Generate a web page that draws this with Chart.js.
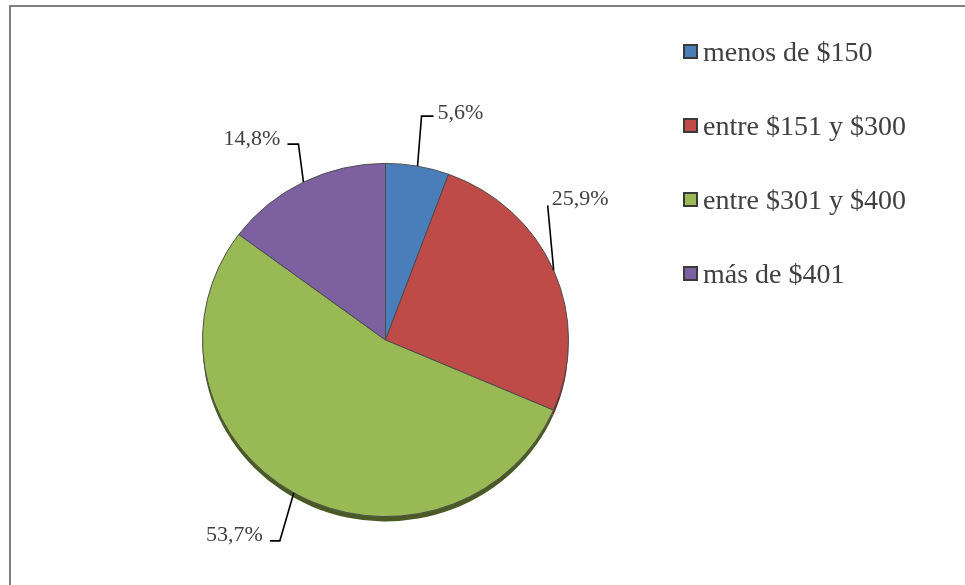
<!DOCTYPE html>
<html>
<head>
<meta charset="utf-8">
<script src="https://cdn.jsdelivr.net/npm/chart.js@4.4.1/dist/chart.umd.min.js"></script>
<style>
  body { margin: 0; background: #fff; }
  #wrap { position: relative; width: 965px; height: 585px; overflow: hidden; }
  #frame { position: absolute; left: 9px; top: 5px; right: -4px; bottom: -4px; border-top: 2px solid #7f7f7f; border-left: 2px solid #7f7f7f; }
  canvas { position: absolute; left: 0; top: 0; }
</style>
</head>
<body>
<div id="wrap">
  <div id="frame"></div>
  <canvas id="chart_1" width="965" height="585"></canvas>
</div>
<script>
const categories = ['menos de $150', 'entre $151 y $300', 'entre $301 y $400', 'más de $401'];
const shares = [5.6, 25.9, 53.7, 14.8];

const sliceColors = ['#4a7ebb', '#be4b48', '#98b954', '#7d60a0'];
const rimColors = ['#2c4a70', '#6e2b29', '#4a5a25', '#48385e'];

// leader line bend relative to the rim point: dx, dy, horizontal run, text baseline shift
const leaders = [
  [4, -50, 12, 3],
  [-6, -65, 0, 0],
  [-14, 48, -10, 0],
  [-5, -38, -11, 1],
];
const squash = 0.965;
const labelFont = '22px "Liberation Serif", "Times New Roman", serif';
const legendFont = '28px "Liberation Serif", "Times New Roman", serif';

// flattens the pie a little and draws the dark rim below it
const pieShading = {
  id: 'pieShading',
  beforeDatasetsDraw(chart) {
    const ctx = chart.ctx;
    const arcs = chart.getDatasetMeta(0).data;
    const cx = arcs[0].x, cy = arcs[0].y;
    ctx.save();
    ctx.translate(cx, cy);
    ctx.scale(1, squash);
    ctx.translate(-cx, -cy);
    arcs.forEach(function (arc, i) {
      ctx.beginPath();
      ctx.moveTo(arc.x, arc.y + 5);
      ctx.arc(arc.x, arc.y + 5, arc.outerRadius, arc.startAngle, arc.endAngle);
      ctx.closePath();
      ctx.fillStyle = rimColors[i];
      ctx.fill();
    });
  },
  afterDatasetsDraw(chart) {
    chart.ctx.restore();
  },
};

const pieLabels = {
  id: 'pieLabels',
  afterDraw(chart) {
    const ctx = chart.ctx;
    const arcs = chart.getDatasetMeta(0).data;
    ctx.save();
    ctx.font = labelFont;
    ctx.lineWidth = 1.6;
    ctx.strokeStyle = '#000';
    arcs.forEach(function (arc, i) {
      const mid = (arc.startAngle + arc.endAngle) / 2;
      const ax = arc.x + Math.cos(mid) * arc.outerRadius;
      const ay = arc.y + Math.sin(mid) * arc.outerRadius * squash;
      const bx = ax + leaders[i][0];
      const by = ay + leaders[i][1];
      const run = leaders[i][2];
      ctx.beginPath();
      ctx.moveTo(ax, ay);
      ctx.lineTo(bx, by);
      ctx.lineTo(bx + run, by);
      ctx.stroke();

      const text = shares[i].toFixed(1).replace('.', ',') + '%';
      ctx.fillStyle = '#404040';
      ctx.textBaseline = 'alphabetic';
      if (run >= 0) {
        ctx.textAlign = 'left';
        ctx.fillText(text, bx + run + 4, by + leaders[i][3]);
      } else {
        ctx.textAlign = 'right';
        ctx.fillText(text, bx + run - 7, by + leaders[i][3]);
      }
    });

    // legend
    ctx.font = legendFont;
    ctx.textAlign = 'left';
    categories.forEach(function (name, i) {
      const y = 51 + i * 74;
      ctx.fillStyle = sliceColors[i];
      ctx.fillRect(684, y - 6, 13, 13);
      ctx.strokeStyle = '#3a3a3a';
      ctx.lineWidth = 2;
      ctx.strokeRect(684, y - 6, 13, 13);
      ctx.fillStyle = '#404040';
      ctx.fillText(name, 703, y + 10);
    });
    ctx.restore();
  },
};

new Chart('chart_1', {
  type: 'pie',
  data: {
    labels: categories,
    datasets: [
      {
        data: shares,
        backgroundColor: sliceColors,
        borderColor: '#4d4d4d',
        borderWidth: 1,
        radius: 183,
      },
    ],
  },
  options: {
    responsive: false,
    devicePixelRatio: 1,
    animation: false,
    layout: { padding: { left: 0, right: 194, top: 95, bottom: 0 } },
    plugins: {
      legend: { display: false },
      tooltip: { enabled: false },
    },
  },
  plugins: [pieShading, pieLabels],
});
</script>
</body>
</html>
